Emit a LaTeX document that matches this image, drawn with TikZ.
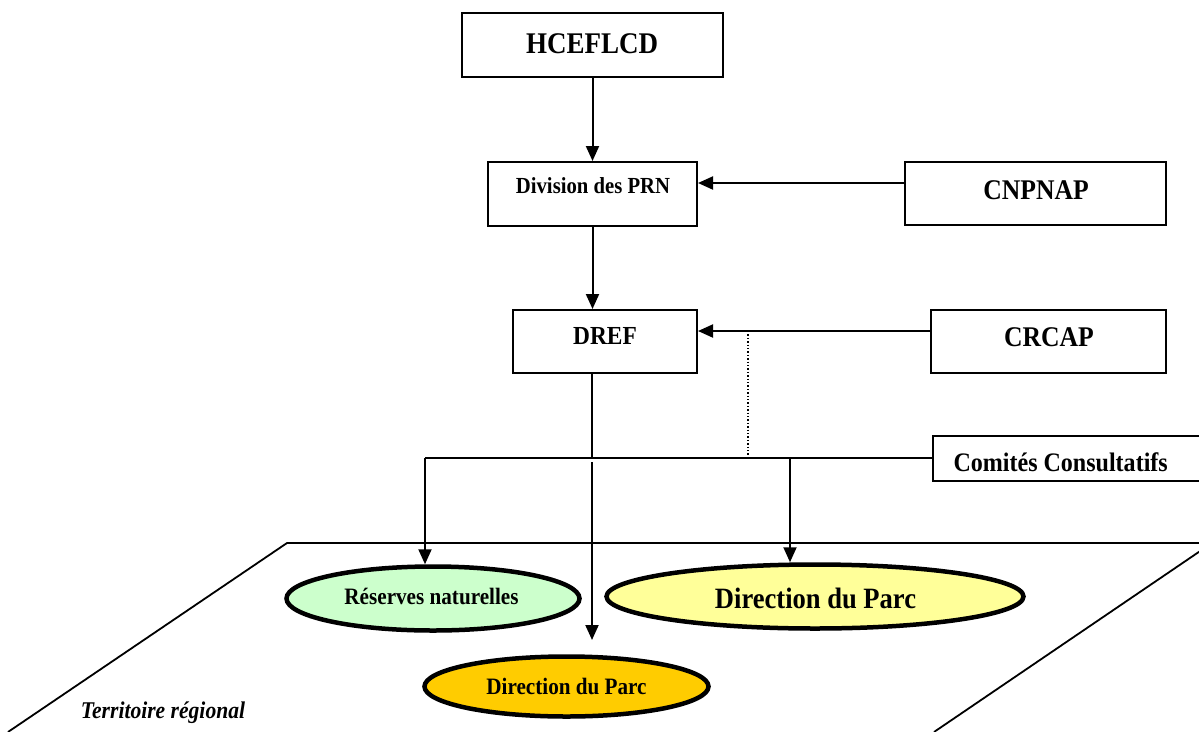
\documentclass[tikz,border=0pt]{standalone}
\usepackage{fontspec}
\setmainfont{Liberation Serif}[FakeStretch=0.9]
\usetikzlibrary{arrows.meta,shapes.geometric}
\tikzset{
  box/.style={draw, line width=2pt, fill=white, inner sep=0pt},
  oval/.style={draw, ellipse, line width=4.5pt, inner sep=0pt},
  line/.style={line width=2pt},
  arr/.style={line width=2pt, -{Triangle[length=15pt,width=13pt]}},
  f/.style={font=\fontsize{#1}{#1}\selectfont\bfseries}
}
\begin{document}
\begin{tikzpicture}[x=1pt,y=-1pt]
\useasboundingbox (0,0) rectangle (1199,731);
\clip (0,0) rectangle (1199,731);
\fill[white] (0,0) rectangle (1199,731);
% territory
\draw[line width=1.8pt] (8,732) -- (287,543) -- (1212,543) -- (934,732);
\node[font=\fontsize{24}{24}\selectfont\bfseries\itshape] (terr) at (163,713) {Territoire régional};
% boxes
\node[box, minimum width=261pt, minimum height=64pt] (hce) at (592.5,45) {};
\node[f=30] (hcet) at (592,44) {HCEFLCD};
\node[box, minimum width=209pt, minimum height=64pt] (div) at (592.5,194) {};
\node[f=23] (divt) at (593,186) {Division des PRN};
\node[box, minimum width=261pt, minimum height=63pt] (cnp) at (1035.5,193.5) {};
\node[f=28.5] (cnpt) at (1036,190) {CNPNAP};
\node[box, minimum width=184pt, minimum height=63pt] (dref) at (605,341.5) {};
\node[f=26] (dreft) at (605,336) {DREF};
\node[box, minimum width=235pt, minimum height=63pt] (crc) at (1048.5,341.5) {};
\node[f=28.5] (crct) at (1049,337) {CRCAP};
\node[box, minimum width=280pt, minimum height=45pt, anchor=west] (com) at (932,458.5) {};
\node[f=26.7, anchor=west] (comt) at (950,462) {Comités Consultatifs};
% ellipses
\node[oval, fill={rgb,255:red,204;green,255;blue,204}, minimum width=293pt, minimum height=64pt] (res) at (433,598.5) {};
\node[f=23.5] (rest) at (431.5,596) {Réserves naturelles};
\node[oval, fill={rgb,255:red,255;green,255;blue,153}, minimum width=417pt, minimum height=64pt] (dpy) at (815,596.5) {};
\node[f=29.5] (dpyt) at (815.5,598) {Direction du Parc};
\node[oval, fill={rgb,255:red,255;green,204;blue,0}, minimum width=284pt, minimum height=60pt] (dpo) at (566.5,686.5) {};
\node[f=23.5] (dpot) at (566.5,686) {Direction du Parc};
% coordinates
\coordinate (a1) at (905,183);
\coordinate (a2) at (931,331);
\coordinate (jl) at (425,458);
\coordinate (jm) at (592,458);
\coordinate (jr) at (790,458);
\coordinate (dt) at (748,331);
\coordinate (db) at (748,458);
\coordinate (mt) at (592,462);
\coordinate (mb) at (592,640);
% connectors
\draw[arr] (hce.south) -- (div.north);
\draw[arr] (a1) -- (a1 -| div.east);
\draw[arr] (div.south) -- (div.south |- dref.north);
\draw[arr] (a2) -- (a2 -| dref.east);
\draw[line width=1.4pt, dotted] (dt) -- (db);
\draw[line] (jm |- dref.south) -- (jm);
\draw[line] (com.west |- jl) -- (jl);
\draw[arr] (jl) -- (jl |- res.north);
\draw[arr] (jr) -- (jr |- dpy.north);
\draw[arr] (mt) -- (mb);
\end{tikzpicture}
\end{document}
